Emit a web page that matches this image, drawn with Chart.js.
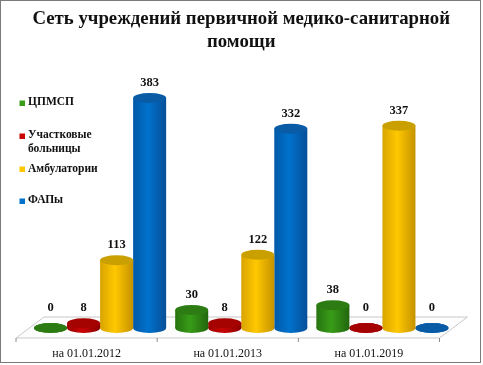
<!DOCTYPE html>
<html>
<head>
<meta charset="utf-8">
<script src="https://cdn.jsdelivr.net/npm/chart.js@4"></script>
<style>
    html, body { margin: 0; padding: 0; background: #fff; }
    #wrap { position: absolute; left: 0; top: 0; width: 483px; height: 365px; }
    #frame { position: absolute; left: 0; top: 0; width: 481px; height: 363px; border: 1.5px solid #7a7a7a; box-sizing: border-box; pointer-events: none; }
    canvas { position: absolute; left: 0; top: 0; }
</style>
</head>
<body>
<div id="wrap">
    <canvas id="chart" width="483" height="365"></canvas>
    <div id="frame"></div>
</div>
<script>
const titleLines = ['Сеть учреждений первичной медико-санитарной', 'помощи'];
const categories = ['на 01.01.2012', 'на 01.01.2013', 'на 01.01.2019'];
const cpmsp = [0, 30, 38];
const hospitals = [8, 8, 0];
const ambulatories = [113, 122, 337];
const faps = [383, 332, 0];

const names = ['ЦПМСП', 'Участковые больницы', 'Амбулатории', 'ФАПы'];
const legendRows = [[103, 102], [136, 135, 149], [169, 169], [201, 200]];

// left edge, middle, right edge, cap
const shades = [
    ['#27730f', '#389c18', '#22660d', '#2c7c13'],
    ['#9c0000', '#c80404', '#8c0000', '#a50202'],
    ['#d8a400', '#ffc800', '#c49200', '#c9a000'],
    ['#0059a8', '#0072cc', '#074f98', '#0a5ba6'],
];

const CAP_H = 5;
const DEPTH_X = 28;
const DEPTH_UP = 11;
const DEPTH_DOWN = 10;
const LABEL_SHIFT = 13.5;

const cylinders = {
    id: 'cylinders',
    beforeDatasetsDraw(chart) {
        const { ctx, scales: { x, y } } = chart;
        const base = y.getPixelForValue(0);
        const left = x.left - LABEL_SHIFT;
        const right = x.right - LABEL_SHIFT;
        ctx.save();
        ctx.strokeStyle = '#c9c9c9';
        ctx.fillStyle = '#fdfdfd';
        ctx.lineWidth = 1;
        ctx.beginPath();
        ctx.moveTo(left, base + DEPTH_DOWN);
        ctx.lineTo(right, base + DEPTH_DOWN);
        ctx.lineTo(right + DEPTH_X, base - DEPTH_UP);
        ctx.lineTo(left + DEPTH_X, base - DEPTH_UP);
        ctx.closePath();
        ctx.fill();
        ctx.stroke();
        const step = (right - left) / categories.length;
        ctx.strokeStyle = '#8c8c8c';
        for (let i = 0; i <= categories.length; i++) {
            ctx.beginPath();
            ctx.moveTo(left + i * step, base + DEPTH_DOWN);
            ctx.lineTo(left + i * step, base + DEPTH_DOWN + 4);
            ctx.stroke();
        }
        ctx.restore();
    },
    beforeDatasetDraw(chart, args) {
        const { ctx } = chart;
        const s = shades[args.index];
        args.meta.data.forEach(bar => {
            const half = bar.width / 2;
            const grad = ctx.createLinearGradient(bar.x - half, 0, bar.x + half, 0);
            grad.addColorStop(0, s[0]);
            grad.addColorStop(0.45, s[1]);
            grad.addColorStop(1, s[2]);
            bar.options = { ...bar.options, backgroundColor: grad };
            ctx.fillStyle = grad;
            ctx.beginPath();
            ctx.ellipse(bar.x, bar.base, half, CAP_H, 0, 0, Math.PI * 2);
            ctx.fill();
        });
    },
    afterDatasetDraw(chart, args) {
        const { ctx } = chart;
        args.meta.data.forEach(bar => {
            ctx.fillStyle = shades[args.index][3];
            ctx.beginPath();
            ctx.ellipse(bar.x, bar.y, bar.width / 2, CAP_H, 0, 0, Math.PI * 2);
            ctx.fill();
        });
    },
    afterDatasetsDraw(chart) {
        const { ctx } = chart;
        ctx.save();
        ctx.font = 'bold 12.5px "Liberation Serif"';
        ctx.fillStyle = '#111';
        ctx.textAlign = 'center';
        ctx.textBaseline = 'middle';
        chart.data.datasets.forEach((ds, i) => {
            chart.getDatasetMeta(i).data.forEach((bar, j) => {
                const gap = ds.data[j] === 0 ? 20 : 15;
                ctx.fillText(String(ds.data[j]), bar.x, bar.y - gap);
            });
        });

        // legend sits over the plot in the original
        ctx.font = 'bold 11.5px "Liberation Serif"';
        ctx.textAlign = 'left';
        const parts = [['ЦПМСП'], ['Участковые', 'больницы'], ['Амбулатории'], ['ФАПы']];
        parts.forEach((lines, i) => {
            const row = legendRows[i];
            ctx.fillStyle = shades[i][1];
            ctx.fillRect(19.5, row[0] - 2.5, 5.5, 5.5);
            ctx.fillStyle = '#111';
            lines.forEach((line, k) => ctx.fillText(line, 28, row[k + 1]));
        });
        ctx.restore();
    }
};

new Chart(document.getElementById('chart'), {
    type: 'bar',
    data: {
        labels: categories,
        datasets: [cpmsp, hospitals, ambulatories, faps].map((values, i) => ({
            label: names[i],
            data: values,
            backgroundColor: shades[i][1],
            borderWidth: 0,
            categoryPercentage: 0.936,
            barPercentage: 1,
        })),
    },
    options: {
        responsive: false,
        animation: false,
        layout: { padding: { left: 29.5, right: 30, top: 0, bottom: 0 } },
        plugins: {
            legend: { display: false },
            tooltip: { enabled: false },
            title: {
                display: true,
                text: titleLines,
                color: '#111',
                font: { family: '"Liberation Serif"', size: 18.8, weight: 'bold', lineHeight: 1.22 },
                padding: { top: 8, bottom: 10 },
            },
        },
        scales: {
            x: {
                grid: { display: false },
                border: { display: false },
                afterFit: s => { s.height = 37; },
                ticks: {
                    color: '#111',
                    maxRotation: 0,
                    padding: 11,
                    labelOffset: -LABEL_SHIFT,
                    font: { family: '"Liberation Serif"', size: 12 },
                },
            },
            y: { display: false, min: 0, max: 440 },
        },
    },
    plugins: [cylinders],
});
</script>
</body>
</html>
